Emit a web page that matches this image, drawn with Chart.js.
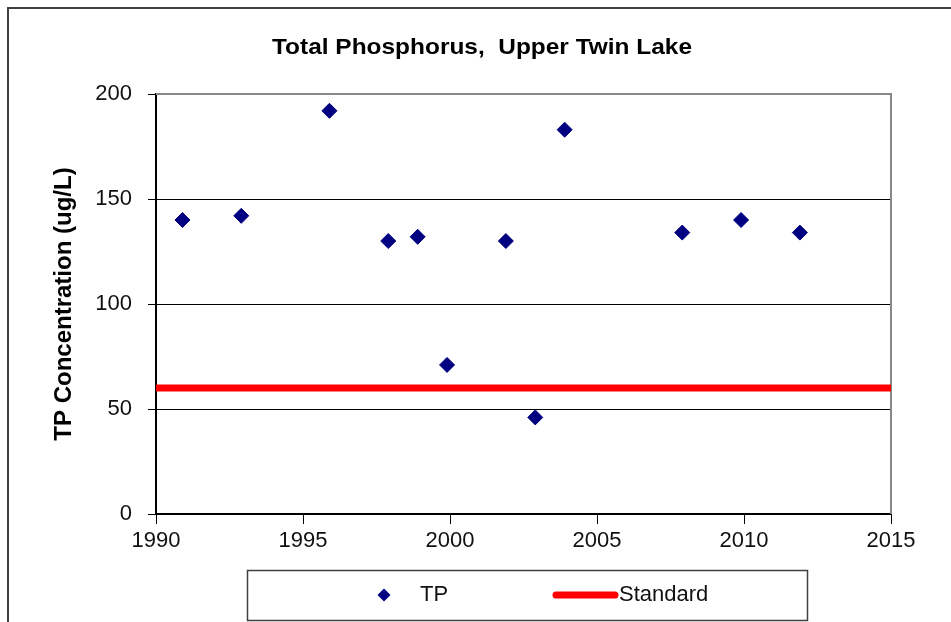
<!DOCTYPE html>
<html>
<head>
<meta charset="utf-8">
<title>Total Phosphorus, Upper Twin Lake</title>
<script src="https://cdn.jsdelivr.net/npm/chart.js@4.4.0/dist/chart.umd.min.js"></script>
<style>
  html, body { margin: 0; padding: 0; background: #fff; }
  #wrap { width: 951px; height: 622px; }
</style>
</head>
<body>
<div id="wrap"><canvas id="tpChart" width="951" height="622"></canvas></div>
<script>
// sample dates (decimal years) and TP results in ug/L
const sampleYears = [1990.9, 1992.9, 1995.9, 1997.9, 1998.9, 1999.9, 2001.9, 2002.9, 2003.9, 2007.9, 2009.9, 2011.9];
const tpValues = [140, 142, 192, 130, 132, 71, 130, 46, 183, 134, 140, 134];
const standardValue = 60;
const yearRange = [1990, 2015];
const yRange = [0, 200];
const seriesLabels = ['TP', 'Standard'];
const chartTitle = 'Total Phosphorus,  Upper Twin Lake';

const FONT = "'Liberation Sans', Arial, sans-serif";
Chart.defaults.font.family = FONT;
Chart.defaults.color = '#111';

// outer frame, title, gray top/right edge of the plot
const framePlugin = {
  id: 'frame',
  beforeDraw(chart) {
    const c = chart.ctx;
    c.save();
    c.fillStyle = '#fff';
    c.fillRect(0, 0, chart.width, chart.height);
    c.strokeStyle = '#404040';
    c.lineWidth = 2;
    c.beginPath();
    c.moveTo(8, chart.height);
    c.lineTo(8, 8);
    c.lineTo(chart.width, 8);
    c.stroke();
    // title, stretched a little wider like the original
    c.font = 'bold 22px ' + FONT;
    c.fillStyle = '#000';
    c.textAlign = 'center';
    c.textBaseline = 'middle';
    const w = c.measureText(chartTitle).width;
    c.translate(482, 48);
    c.scale(420 / w, 1);
    c.fillText(chartTitle, 0, 0);
    c.restore();
  },
  beforeDatasetsDraw(chart) {
    const a = chart.chartArea, c = chart.ctx;
    c.save();
    c.strokeStyle = '#888';
    c.lineWidth = 2;
    c.beginPath();
    c.moveTo(a.left, a.top);
    c.lineTo(a.right, a.top);
    c.lineTo(a.right, a.bottom);
    c.stroke();
    c.restore();
  }
};

// boxed legend under the x axis
const boxLegend = {
  id: 'boxLegend',
  afterDraw(chart) {
    const c = chart.ctx;
    const ds = chart.data.datasets;
    const y = 595;
    c.save();
    c.strokeStyle = '#404040';
    c.lineWidth = 1.5;
    c.strokeRect(247.5, 570.5, 560, 50);
    c.fillStyle = ds[0].backgroundColor;
    c.beginPath();
    c.moveTo(384, y - 6.5); c.lineTo(390.5, y); c.lineTo(384, y + 6.5); c.lineTo(377.5, y);
    c.closePath();
    c.fill();
    c.font = '22px ' + FONT;
    c.fillStyle = '#111';
    c.textBaseline = 'middle';
    c.fillText(ds[0].label, 420, y);
    c.strokeStyle = ds[1].borderColor;
    c.lineWidth = 7;
    c.lineCap = 'round';
    c.beginPath();
    c.moveTo(556, y); c.lineTo(615, y);
    c.stroke();
    c.fillText(ds[1].label, 619, y);
    c.restore();
  }
};

new Chart(document.getElementById('tpChart'), {
  type: 'scatter',
  data: {
    datasets: [{
      label: seriesLabels[0],
      data: sampleYears.map((x, i) => ({x: x, y: tpValues[i]})),
      backgroundColor: '#000080',
      borderColor: '#000080',
      pointStyle: 'rectRot',
      pointRadius: 7.5,
      pointBorderWidth: 1,
      order: 1
    }, {
      label: seriesLabels[1],
      type: 'line',
      data: yearRange.map(x => ({x: x, y: standardValue})),
      borderColor: '#ff0000',
      borderWidth: 7,
      pointRadius: 0,
      order: 2
    }]
  },
  options: {
    responsive: false,
    animation: false,
    devicePixelRatio: 1,
    layout: {padding: {left: 0, right: 60, top: 94, bottom: 0}},
    plugins: {
      legend: {display: false},
      tooltip: {enabled: false},
      title: {display: false}
    },
    scales: {
      x: {
        type: 'linear',
        min: yearRange[0],
        max: yearRange[1],
        afterFit(scale) { scale.height = 108; },
        ticks: {stepSize: 5, padding: 4, color: '#111', font: {size: 22}, callback: v => String(v)},
        grid: {drawOnChartArea: false, drawTicks: true, tickLength: 10, color: '#000', lineWidth: 1},
        border: {color: '#000', width: 2}
      },
      y: {
        min: yRange[0],
        max: yRange[1],
        afterFit(scale) { scale.width = 156; },
        ticks: {stepSize: 50, padding: 16, color: '#111', font: {size: 22}},
        grid: {
          color: ctx => (ctx.tick && ctx.tick.value === yRange[1]) ? '#888' : '#000',
          tickColor: '#000',
          tickLength: 8,
          lineWidth: 1
        },
        border: {color: '#000', width: 2},
        title: {
          display: true,
          text: 'TP Concentration (ug/L)',
          color: '#000',
          font: {size: 24, weight: 'bold', family: FONT},
          padding: {top: 50, bottom: 0}
        }
      }
    }
  },
  plugins: [framePlugin, boxLegend]
});
</script>
</body>
</html>
